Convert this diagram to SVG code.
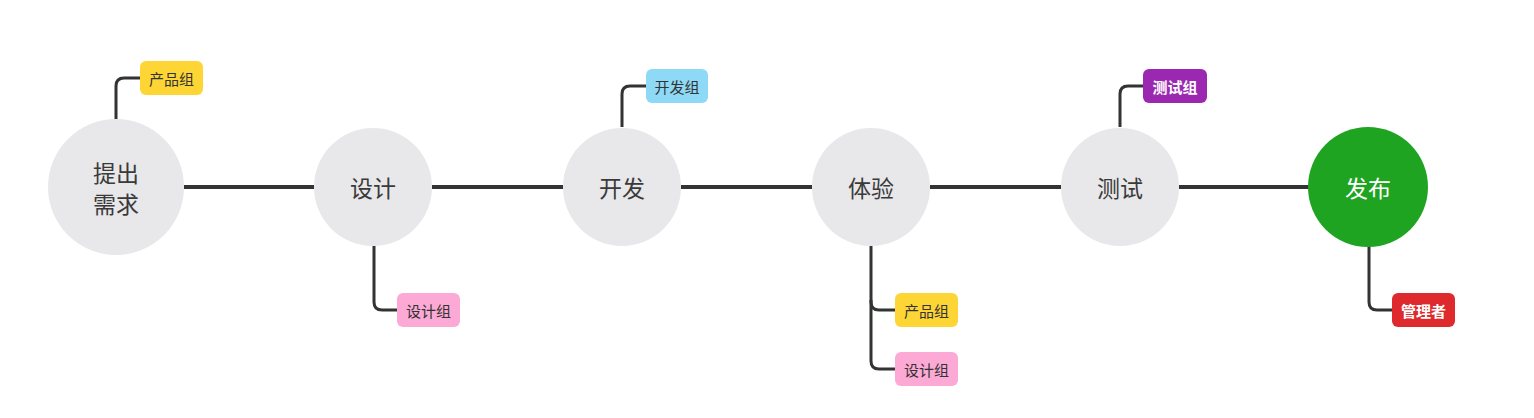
<svg xmlns="http://www.w3.org/2000/svg" width="1534" height="418" viewBox="0 0 1534 418">
<style>
.bg{fill:#ffffff}
.circ{fill:#e8e7ea}
.main{fill:#1fa422}
.ct{font-family:"Noto Sans CJK SC","Noto Sans",sans-serif;font-size:23px;fill:#3a3a3a;text-anchor:middle;dominant-baseline:central}
.ctw{fill:#ffffff}
.tt{font-family:"Noto Sans CJK SC","Noto Sans",sans-serif;font-size:15px;fill:#333333;text-anchor:middle;dominant-baseline:central}
.ttw{fill:#ffffff;font-weight:bold}
.spine{stroke:#333333;stroke-width:4;fill:none}
.br{stroke:#333333;stroke-width:3;fill:none}
.yellow{fill:#fdd635}
.blue{fill:#8ed9f6}
.pink{fill:#fca9d6}
.purple{fill:#9a28b0}
.red{fill:#de2a2c}
</style>
<rect class="bg" x="0" y="0" width="1534" height="418"/>
<g id="connectors">
<line class="spine" x1="184" y1="187" x2="314" y2="187"/>
<line class="spine" x1="432" y1="187" x2="563" y2="187"/>
<line class="spine" x1="681" y1="187" x2="812" y2="187"/>
<line class="spine" x1="930" y1="187" x2="1061" y2="187"/>
<line class="spine" x1="1179" y1="187" x2="1309" y2="187"/>
<path class="br" d="M116 119 V86 Q116 78 124 78 H141"/>
<path class="br" d="M374 246 V302 Q374 310 382 310 H398"/>
<path class="br" d="M622 127 V94 Q622 86 630 86 H647"/>
<path class="br" d="M871 246 V302 Q871 310 879 310 H896"/>
<path class="br" d="M871 300 V361 Q871 369 879 369 H896"/>
<path class="br" d="M1120 127 V94 Q1120 86 1128 86 H1144"/>
<path class="br" d="M1369 246 V302 Q1369 310 1377 310 H1393"/>
</g>
<g id="n1">
<circle class="circ" cx="116" cy="187" r="68"/>
<text class="ct" x="116" y="172">提出</text>
<text class="ct" x="116" y="203">需求</text>
</g>
<g id="n1t">
<rect class="yellow" x="140" y="61" width="63" height="34" rx="6"/>
<text class="tt" x="171.5" y="78">产品组</text>
</g>
<g id="n2">
<circle class="circ" cx="373" cy="187" r="59"/>
<text class="ct" x="373" y="187">设计</text>
</g>
<g id="n2t">
<rect class="pink" x="397" y="293" width="63" height="34" rx="6"/>
<text class="tt" x="428.5" y="310">设计组</text>
</g>
<g id="n3">
<circle class="circ" cx="622" cy="187" r="59"/>
<text class="ct" x="622" y="187">开发</text>
</g>
<g id="n3t">
<rect class="blue" x="646" y="69" width="62" height="34" rx="6"/>
<text class="tt" x="677" y="86">开发组</text>
</g>
<g id="n4">
<circle class="circ" cx="871" cy="187" r="59"/>
<text class="ct" x="871" y="187">体验</text>
</g>
<g id="n4t1">
<rect class="yellow" x="895" y="293" width="63" height="34" rx="6"/>
<text class="tt" x="926.5" y="310">产品组</text>
</g>
<g id="n4t2">
<rect class="pink" x="895" y="352" width="63" height="34" rx="6"/>
<text class="tt" x="926.5" y="369">设计组</text>
</g>
<g id="n5">
<circle class="circ" cx="1120" cy="187" r="59"/>
<text class="ct" x="1120" y="187">测试</text>
</g>
<g id="n5t">
<rect class="purple" x="1143" y="69" width="64" height="34" rx="6"/>
<text class="tt ttw" x="1175" y="86">测试组</text>
</g>
<g id="n6">
<circle class="main" cx="1368" cy="187" r="60"/>
<text class="ct ctw" x="1368" y="187">发布</text>
</g>
<g id="n6t">
<rect class="red" x="1392" y="293" width="63" height="34" rx="6"/>
<text class="tt ttw" x="1423.5" y="310">管理者</text>
</g>
</svg>
